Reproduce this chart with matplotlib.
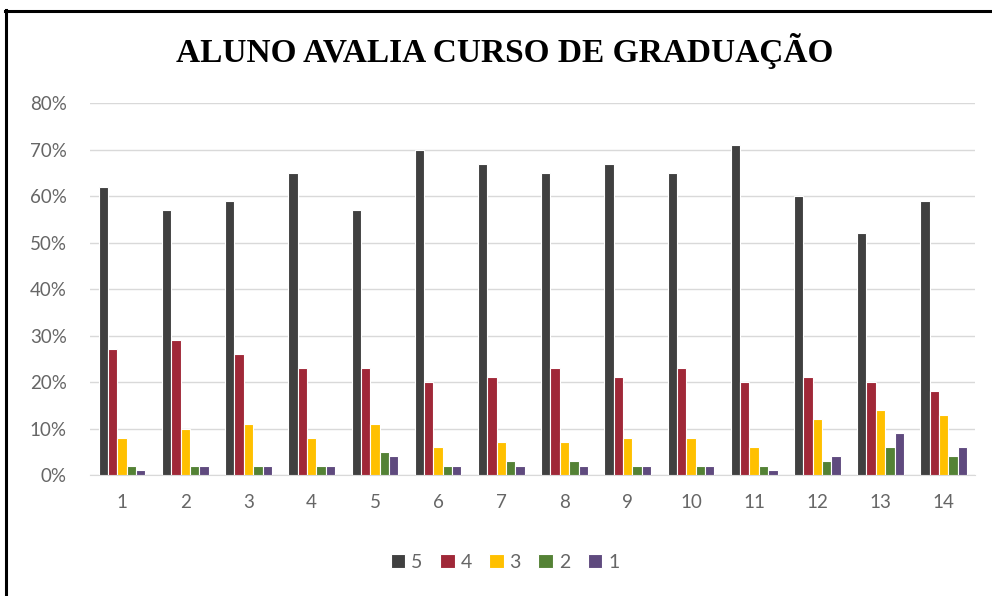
import numpy as np
import matplotlib
matplotlib.use("Agg")
import matplotlib.pyplot as plt
from matplotlib.lines import Line2D
from matplotlib.ticker import PercentFormatter

# notas por curso (percentual de alunos em cada conceito)
cursos = [str(i) for i in range(1, 15)]
nota5 = [62, 57, 59, 65, 57, 70, 67, 65, 67, 65, 71, 60, 52, 59]
nota4 = [27, 29, 26, 23, 23, 20, 21, 23, 21, 23, 20, 21, 20, 18]
nota3 = [8, 10, 11, 8, 11, 6, 7, 7, 8, 8, 6, 12, 14, 13]
nota2 = [2, 2, 2, 2, 5, 2, 3, 3, 2, 2, 2, 3, 6, 4]
nota1 = [1, 2, 2, 2, 4, 2, 2, 2, 2, 2, 1, 4, 9, 6]

series = [("5", nota5, "#404040"), ("4", nota4, "#a02838"),
          ("3", nota3, "#ffc000"), ("2", nota2, "#548235"),
          ("1", nota1, "#5f4a7e")]

cinza = "#666666"
plt.rcParams['font.family'] = ['Lato', 'DejaVu Sans']

fig = plt.figure(figsize=(9.92, 5.96), dpi=100)
ax = fig.add_axes([0.0912, 0.203, 0.892, 0.624])

x = np.arange(len(cursos))
larg = 0.148
for i, (nome, vals, cor) in enumerate(series):
    ax.bar(x + (i - 2) * larg, vals, larg, color=cor, edgecolor="white",
           linewidth=0.8, label=nome, zorder=3)

ax.set_xlim(-0.5, len(cursos) - 0.5)
ax.set_ylim(0, 80)
ax.set_yticks(range(0, 81, 10))
ax.yaxis.set_major_formatter(PercentFormatter(decimals=0))
ax.set_xticks(x)
ax.set_xticklabels(cursos)
ax.grid(axis="y", color="#d9d9d9", linewidth=1, zorder=0)
for s in ["top", "right", "left"]:
    ax.spines[s].set_visible(False)
ax.spines["bottom"].set_color("#d9d9d9")
ax.tick_params(axis="both", length=0, labelsize=13.5, labelcolor=cinza)
ax.tick_params(axis="x", pad=14)
ax.tick_params(axis="y", pad=17)

fig.text(0.509, 0.915, "ALUNO AVALIA CURSO DE GRADUAÇÃO",
         ha="center", va="center", fontsize=24, fontweight="bold",
         family="Liberation Serif", color="black")

fig.legend(loc="center", bbox_to_anchor=(0.509, 0.057), ncol=5,
           frameon=False, fontsize=14, labelcolor=cinza,
           handlelength=0.75, handleheight=0.75, handletextpad=0.3,
           columnspacing=0.9)

# moldura (esquerda e topo)
fig.add_artist(Line2D([0.006, 0.006], [0, 0.983], transform=fig.transFigure,
                      color="black", linewidth=2.2))
fig.add_artist(Line2D([0.005, 1.0], [0.982, 0.982], transform=fig.transFigure,
                      color="black", linewidth=2.2))

fig.savefig("out.png", dpi=100, facecolor="white")
